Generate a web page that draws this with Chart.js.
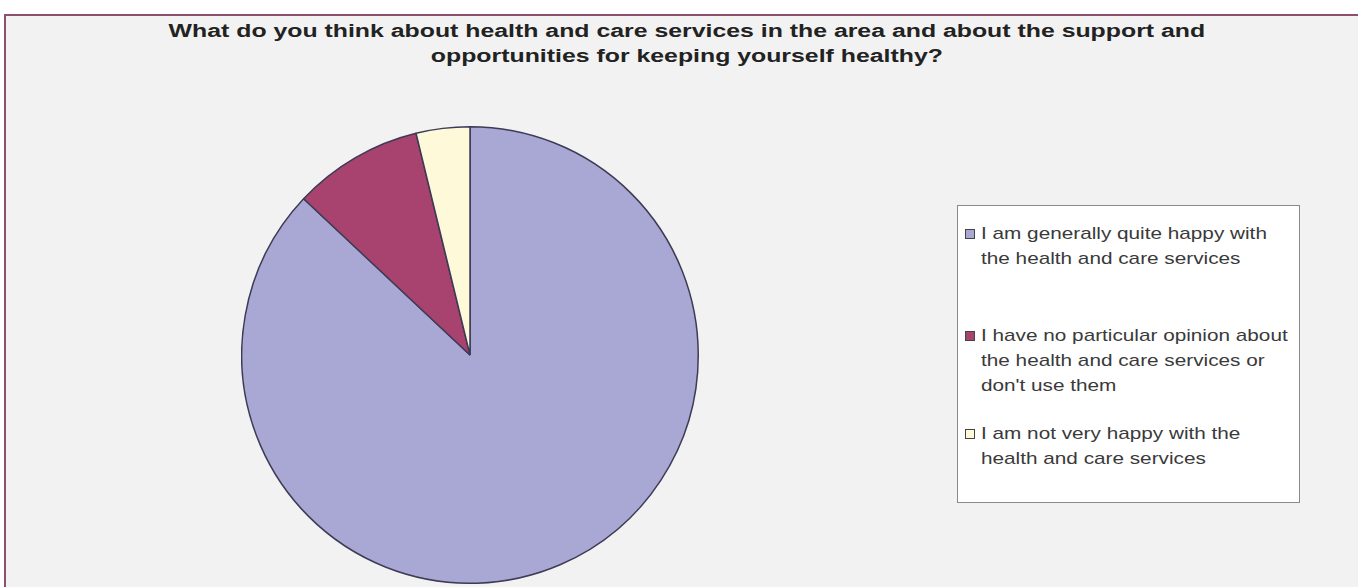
<!DOCTYPE html>
<html lang="en">
  <head>
    <meta charset="UTF-8" />
    <title>Health and care services</title>
    <script src="https://cdn.jsdelivr.net/npm/chart.js"></script>
    <style>
      body {
        margin: 0;
        width: 1358px;
        height: 587px;
        background: #ffffff;
        font-family: Arial, "Liberation Sans", sans-serif;
        overflow: hidden;
      }
      #frame {
        position: absolute;
        left: 4px;
        top: 14px;
        width: 1360px;
        height: 600px;
        background: #f2f2f2;
        border-top: 2px solid #8c4f6e;
        border-left: 2px solid #8c4f6e;
      }
      /* the original picture is stretched sideways, so the text is too */
      #title {
        position: absolute;
        left: 168px;
        top: 19px;
        width: 752px;
        text-align: center;
        font-weight: bold;
        font-size: 18px;
        line-height: 25px;
        color: #222;
        white-space: nowrap;
        transform: scaleX(1.38);
        transform-origin: left top;
      }
      #pie-wrap {
        position: absolute;
        left: 241px;
        top: 126px;
        width: 458px;
        height: 458px;
      }
      #legend {
        position: absolute;
        left: 957px;
        top: 205px;
        width: 343px;
        height: 298px;
        background: #fff;
        border: 1px solid #8a8a8a;
        box-sizing: border-box;
        font-size: 17px;
        line-height: 25px;
        color: #3a3a3a;
      }
      .item {
        position: absolute;
        left: 7px;
      }
      .item .mark {
        position: absolute;
        left: 0;
        top: 8px;
        width: 8px;
        height: 8px;
        border: 1px solid #444;
      }
      .item .txt {
        position: absolute;
        left: 16px;
        top: 0;
        white-space: nowrap;
        transform: scaleX(1.22);
        transform-origin: left top;
      }
    </style>
  </head>
  <body>
    <div id="frame"></div>
    <div id="title">
      What do you think about health and care services in the area and about the support and<br />
      opportunities for keeping yourself healthy?
    </div>
    <div id="pie-wrap"><canvas id="pie"></canvas></div>
    <div id="legend"></div>

    <script>
      // answers, in the order they appear clockwise from 12 o'clock
      const answers = [
        "I am generally quite happy with the health and care services",
        "I have no particular opinion about the health and care services or don't use them",
        "I am not very happy with the health and care services",
      ];
      const shares = [87, 9.2, 3.8]; // % of respondents
      const sliceColors = ["#a9a8d4", "#a8426f", "#fdf9d9"];

      // legend rows, hand-broken like the original
      const legendLines = [
        ["I am generally quite happy with", "the health and care services"],
        ["I have no particular opinion about", "the health and care services or", "don't use them"],
        ["I am not very happy with the", "health and care services"],
      ];
      const legendTops = [15, 117, 215];

      const legend = document.getElementById("legend");
      legendLines.forEach((lines, i) => {
        const div = document.createElement("div");
        div.className = "item";
        div.style.top = legendTops[i] + "px";
        div.innerHTML =
          '<span class="mark" style="background:' + sliceColors[i] + '"></span>' +
          '<div class="txt">' + lines.join("<br>") + "</div>";
        legend.appendChild(div);
      });

      new Chart(document.getElementById("pie"), {
        type: "pie",
        data: {
          labels: answers,
          datasets: [
            {
              data: shares,
              backgroundColor: sliceColors,
              borderColor: "#3d3b55",
              borderWidth: 1.5,
            },
          ],
        },
        options: {
          responsive: true,
          maintainAspectRatio: false,
          animation: false,
          plugins: {
            legend: { display: false },
            title: { display: false },
            tooltip: { enabled: false },
          },
        },
      });
    </script>
  </body>
</html>
